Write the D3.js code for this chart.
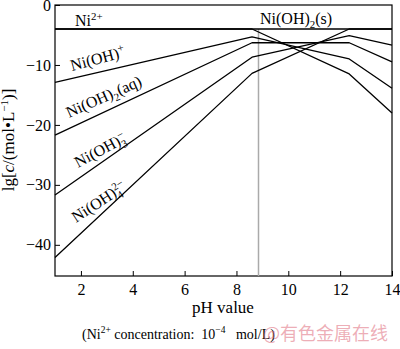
<!DOCTYPE html>
<html>
<head>
<meta charset="utf-8">
<script src="https://cdn.jsdelivr.net/npm/d3@7/dist/d3.min.js"></script>
<style>
  html, body { margin: 0; padding: 0; background: #fff; }
  svg { display: block; }
</style>
</head>
<body>
<svg id="chart" width="400" height="349"></svg>
<script>
// pH break points of the piecewise species lines
const pH = [1, 8.6, 12.35, 14];
// lg c of each nickel species at those pH values
const lgNi = [-4, -4, -11.5, -18];
const lgNiOH = [-12.9, -5.3, -9.0, -13.9];
const lgNiOH2 = [-21.7, -6.3, -6.3, -9.5];
const lgNiOH3 = [-31.7, -8.7, -5.1, -6.7];
const lgNiOH4 = [-42.1, -11.4, -4, -4];
// total Ni(II) level and the precipitation pH
const totalLg = -4;
const pHPrecip = 8.85;
// axis ticks
const xTicks = [2, 4, 6, 8, 10, 12, 14];
const yTicks = [0, -10, -20, -30, -40];

const SERIF = '"Liberation Serif", "DejaVu Serif", serif';

const svg = d3.select("#chart");
const x = d3.scaleLinear().domain([1, 14]).range([55, 392]);
const y = d3.scaleLinear().domain([-45.2, 0]).range([276, 5]);

const line = d3.line().x(d => x(d[0])).y(d => y(d[1]));

// frame
svg.append("rect")
  .attr("x", x(1)).attr("y", y(0))
  .attr("width", x(14) - x(1)).attr("height", y(-45.2) - y(0))
  .attr("fill", "none").attr("stroke", "#000").attr("stroke-width", 1.2);

// axes with inward ticks
const xAxis = svg.append("g")
  .attr("transform", `translate(0,${y(-45.2)})`)
  .call(d3.axisBottom(x).tickValues(xTicks).tickSizeInner(-5).tickSizeOuter(0).tickPadding(8).tickFormat(d3.format("d")));
const yAxis = svg.append("g")
  .attr("transform", `translate(${x(1)},0)`)
  .call(d3.axisLeft(y).tickValues(yTicks).tickSizeInner(-5).tickSizeOuter(0).tickPadding(4)
    .tickFormat(d => d < 0 ? "\u2212" + Math.abs(d) : String(d)));
[xAxis, yAxis].forEach(g => {
  g.select(".domain").remove();
  g.selectAll(".tick line").attr("stroke", "#000").attr("stroke-width", 1);
  g.selectAll(".tick text").style("font-family", SERIF).style("font-size", "16px").attr("fill", "#000");
});

// precipitation boundary
svg.append("line")
  .attr("x1", x(pHPrecip)).attr("x2", x(pHPrecip))
  .attr("y1", y(totalLg)).attr("y2", y(-45.2))
  .attr("stroke", "#aaa").attr("stroke-width", 1.5);

// total concentration level
svg.append("path")
  .attr("d", line([[1, totalLg], [14, totalLg]]))
  .attr("fill", "none").attr("stroke", "#000").attr("stroke-width", 1.3);

// species lines
[lgNi, lgNiOH, lgNiOH2, lgNiOH3, lgNiOH4].forEach(vals => {
  svg.append("path")
    .attr("d", line(pH.map((p, i) => [p, vals[i]])))
    .attr("fill", "none").attr("stroke", "#000").attr("stroke-width", 1.3)
    .attr("stroke-linejoin", "round");
});

// label helper: parts = [text, kind, dx] with kind "", "sub" or "sup"
function label(px, py, angle, parts, size) {
  const t = svg.append("text")
    .attr("transform", `translate(${px},${py}) rotate(${angle})`)
    .style("font-family", SERIF).style("font-size", size + "px");
  let shift = 0;
  parts.forEach(([s, kind, dx]) => {
    const sp = t.append("tspan").text(s);
    let target = 0;
    if (kind === "sub") { target = 4; sp.style("font-size", (size * 0.68) + "px"); }
    else if (kind === "sup") { target = -6; sp.style("font-size", (size * 0.68) + "px"); }
    sp.attr("dy", target - shift);
    if (dx) sp.attr("dx", dx);
    shift = target;
  });
  return t;
}

label(75, 26, 0, [["Ni"], ["2+", "sup"]], 16);
label(260, 24, 0, [["Ni(OH)"], ["2", "sub"], ["(s)"]], 16);
label(72, 71, -15, [["Ni(OH)"], ["+", "sup"]], 16);
label(69, 118, -24, [["Ni(OH)"], ["2", "sub"], ["(aq)"]], 16);
label(78, 168, -28, [["Ni(OH)"], ["3", "sub"], ["\u2212", "sup", -5.5]], 16);
label(76, 223, -33, [["Ni(OH)"], ["4", "sub"], ["2\u2212", "sup", -5.5]], 16);

// axis titles
const yt = svg.append("text")
  .attr("transform", `translate(14,140) rotate(-90)`)
  .attr("text-anchor", "middle")
  .style("font-family", SERIF).style("font-size", "17px");
yt.append("tspan").text("lg[");
yt.append("tspan").text("c").style("font-style", "italic");
yt.append("tspan").text("/(mol\u2022L");
yt.append("tspan").text("\u22121").style("font-size", "11px").attr("dy", -6);
yt.append("tspan").text(")]").attr("dy", 6);

svg.append("text")
  .attr("x", 223).attr("y", 313)
  .attr("text-anchor", "middle")
  .style("font-family", SERIF).style("font-size", "17px")
  .text("pH value");

// caption
const cap = svg.append("text").attr("x", 82).attr("y", 339)
  .style("font-family", SERIF).style("font-size", "14px");
cap.append("tspan").text("(Ni");
cap.append("tspan").text("2+").style("font-size", "9.5px").attr("dy", -6);
cap.append("tspan").text(" concentration:\u00a0\u00a010").attr("dy", 6);
cap.append("tspan").text("\u22124").style("font-size", "9.5px").attr("dy", -6);
cap.append("tspan").text("\u00a0\u00a0\u00a0mol/L)").attr("dy", 6);

// publisher mark
svg.append("text")
  .attr("x", 263).attr("y", 340)
  .style("font-family", '"Noto Sans CJK SC", sans-serif')
  .style("font-size", "18px")
  .attr("fill", "rgb(226,120,135)").attr("fill-opacity", 0.6)
  .text("@有色金属在线");
</script>
</body>
</html>
